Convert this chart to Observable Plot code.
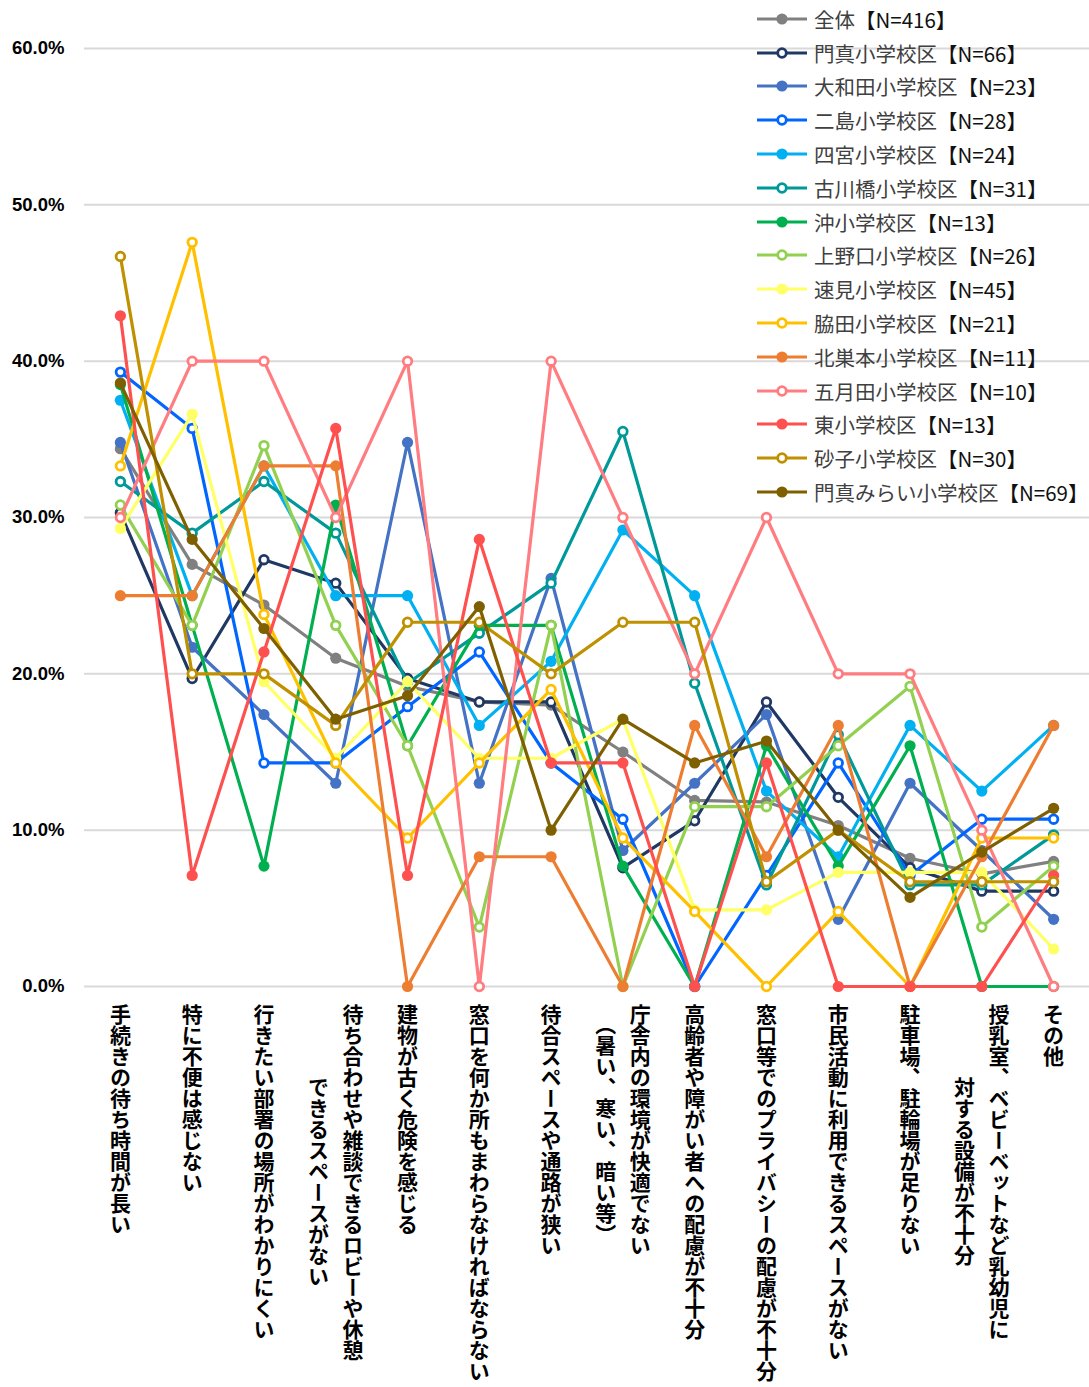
<!DOCTYPE html>
<html><head><meta charset="utf-8">
<script src="https://cdn.jsdelivr.net/npm/d3@7"></script>
<script src="https://cdn.jsdelivr.net/npm/@observablehq/plot@0.6"></script>
<style>
body{margin:0;background:#fff;}
#wrap{position:relative;width:1089px;height:1387px;overflow:hidden;}
#legend{position:absolute;left:755px;top:2px;font-family:"Noto Sans CJK JP","Noto Sans",sans-serif;font-size:20.5px;color:#404040;}
.item{height:33.8px;display:flex;align-items:center;white-space:nowrap;}
.item svg{margin-right:5px;flex:none;}
.item .n{color:#111;}
</style></head><body>
<div id="wrap"><div id="chart"></div><div id="legend"></div></div>
<script>
const categories = [
  "手続きの待ち時間が長い",
  "特に不便は感じない",
  "行きたい部署の場所がわかりにくい",
  "待ち合わせや雑談できるロビーや休憩\nできるスペースがない",
  "建物が古く危険を感じる",
  "窓口を何か所もまわらなければならない",
  "待合スペースや通路が狭い",
  "庁舎内の環境が快適でない\n（暑い、寒い、暗い等）",
  "高齢者や障がい者への配慮が不十分",
  "窓口等でのプライバシーの配慮が不十分",
  "市民活動に利用できるスペースがない",
  "駐車場、駐輪場が足りない",
  "授乳室、ベビーベットなど乳幼児に\n対する設備が不十分",
  "その他"
];
const seriesNames = ["全体","門真小学校区","大和田小学校区","二島小学校区","四宮小学校区","古川橋小学校区","沖小学校区","上野口小学校区","速見小学校区","脇田小学校区","北巣本小学校区","五月田小学校区","東小学校区","砂子小学校区","門真みらい小学校区"];
const seriesN = [416,66,23,28,24,31,13,26,45,21,11,10,13,30,69];
const yTicks = [0,0.1,0.2,0.3,0.4,0.5,0.6];

// values in percent, one per category
const zentai        = [34.4,27.0,24.4,21.0,19.2,18.2,18.0,15.0,11.9,11.8,10.3,8.2,7.2,8.0];
const kadoma        = [30.3,19.7,27.3,25.8,19.7,18.2,18.2,7.6,10.6,18.2,12.1,7.6,6.1,6.1];
const owada         = [34.8,21.7,17.4,13.0,34.8,13.0,26.1,8.7,13.0,17.4,4.3,13.0,8.7,4.3];
const futajima      = [39.3,35.7,14.3,14.3,17.9,21.4,14.3,10.7,0,7.1,14.3,7.1,10.7,10.7];
const shinomiya     = [37.5,25.0,33.3,25.0,25.0,16.7,20.8,29.2,25.0,12.5,8.3,16.7,12.5,16.7];
const furukawabashi = [32.3,29.0,32.3,29.0,19.4,22.6,25.8,35.5,19.4,6.5,16.1,6.5,6.5,9.7];
const oki           = [38.5,23.1,7.7,30.8,15.4,23.1,23.1,7.7,0,15.4,7.7,15.4,0,0];
const uenoguchi     = [30.8,23.1,34.6,23.1,15.4,3.8,23.1,0,11.5,11.5,15.4,19.2,3.8,7.7];
const hayami        = [29.3,36.6,19.5,14.6,19.5,14.6,14.6,17.1,4.9,4.9,7.3,7.3,7.3,2.4];
const wakita        = [33.3,47.6,23.8,14.3,9.5,14.3,19.0,9.5,4.8,0,4.8,0,9.5,9.5];
const kitasumoto    = [25.0,25.0,33.3,33.3,0,8.3,8.3,0,16.7,8.3,16.7,0,8.3,16.7];
const satsukida     = [30,40,40,30,40,0,40,30,20,30,20,20,10,0];
const higashi       = [42.9,7.1,21.4,35.7,7.1,28.6,14.3,14.3,0,14.3,0,0,0,7.1];
const sunago        = [46.7,20.0,20.0,16.7,23.3,23.3,20.0,23.3,23.3,6.7,10.0,6.7,6.7,6.7];
const mirai         = [38.6,28.6,22.9,17.1,18.6,24.3,10.0,17.1,14.3,15.7,10.0,5.7,8.6,11.4];

const seriesValues = [zentai,kadoma,owada,futajima,shinomiya,furukawabashi,oki,uenoguchi,hayami,wakita,kitasumoto,satsukida,higashi,sunago,mirai];

// styles
const colors = ["#808080","#203864","#4472C4","#0066FF","#00B0F0","#009999","#00B050","#92D050","#FFFF66","#FFC000","#ED7D31","#FF7C80","#FF5050","#BF9000","#7F6000"];
const hollow = [false,true,false,true,false,true,false,true,false,true,false,true,false,true,false];

const rows = seriesNames.flatMap((s,i)=>categories.map((c,j)=>({series:s, category:c, value:seriesValues[i][j]/100})));

const fs = 21;
const labelMarks = categories.flatMap(c=>{
  const lines = c.split("\n");
  const n = lines.length;
  const maxLen = d3.max(lines, l=>[...l].length);
  return lines.map((line,i)=>Plot.text([{c, line}], {
    x:"c", text:"line", frameAnchor:"bottom", lineAnchor:"bottom",
    dy: 17 + maxLen*fs/2, dx: ((n-1)/2 - i)*34.5,
    textAnchor:"middle", fontSize:fs, fontWeight:"bold", fill:"#000"
  }));
});

const seriesMarks = seriesNames.flatMap((s,i)=>{
  const d = rows.filter(r=>r.series===s);
  return [
    Plot.line(d, {x:"category", y:"value", stroke:colors[i], strokeWidth:3.2, strokeLinejoin:"round", curve:"linear"}),
    hollow[i]
      ? Plot.dot(d, {x:"category", y:"value", r:4.3, fill:"#fff", stroke:colors[i], strokeWidth:2.8})
      : Plot.dot(d, {x:"category", y:"value", r:5.6, fill:colors[i], stroke:"none"})
  ];
});

const chart = Plot.plot({
  width:1089, height:1387,
  marginLeft:84, marginRight:0, marginTop:48, marginBottom:401,
  style:{fontFamily:"'Noto Sans CJK JP','Noto Sans',sans-serif", background:"#fff", overflow:"visible"},
  x:{type:"point", domain:categories, padding:0.5, round:false, axis:null},
  y:{domain:[0,0.6], label:null},
  marks:[
    Plot.gridY(yTicks, {stroke:"#d9d9d9", strokeOpacity:1, strokeWidth:2}),
    Plot.axisY(yTicks, {tickFormat:d3.format(".1%"), tickSize:0, tickPadding:20, fontSize:18.5, fontWeight:"bold", fill:"#000", fontFamily:"'Liberation Sans','Noto Sans',sans-serif"}),
    ...seriesMarks,
    ...labelMarks
  ]
});
document.getElementById("chart").appendChild(chart);
chart.querySelectorAll('g[aria-label="text"] text').forEach(t=>{
  t.style.writingMode = "vertical-rl";
  t.removeAttribute("y");
});

// legend
const legend = d3.select("#legend");
seriesNames.forEach((s,i)=>{
  const item = legend.append("div").attr("class","item");
  const sv = item.append("svg").attr("width",54).attr("height",16);
  sv.append("line").attr("x1",2).attr("x2",52).attr("y1",8).attr("y2",8).attr("stroke",colors[i]).attr("stroke-width",3.2);
  if (hollow[i]) sv.append("circle").attr("cx",27).attr("cy",8).attr("r",4.3).attr("fill","#fff").attr("stroke",colors[i]).attr("stroke-width",2.8);
  else sv.append("circle").attr("cx",27).attr("cy",8).attr("r",5.6).attr("fill",colors[i]);
  item.append("span").text(s);
  item.append("span").attr("class","n").text(`【N=${seriesN[i]}】`);
});
</script>
</body></html>
